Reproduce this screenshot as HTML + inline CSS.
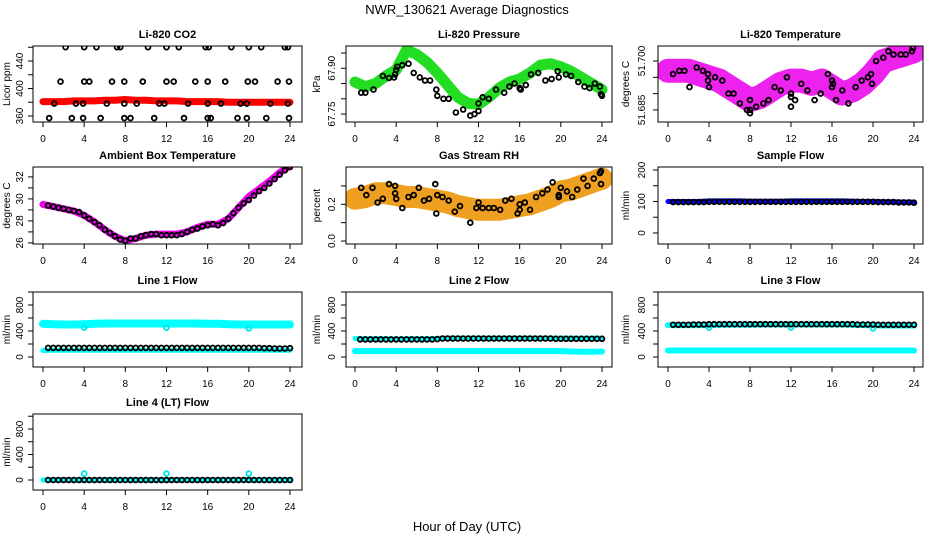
<!DOCTYPE html>
<html><head><meta charset="utf-8"><style>
html,body{margin:0;padding:0;background:#fff;}
svg{display:block;font-family:"Liberation Sans",sans-serif;}
</style></head><body>
<svg id="fig" width="936" height="540" viewBox="0 0 936 540">
<text x="467" y="14" text-anchor="middle" font-size="13">NWR_130621  Average Diagnostics</text>
<text x="467" y="531" text-anchor="middle" font-size="13">Hour of Day (UTC)</text>
</svg>
<script>
const xTicks = [0,4,8,12,16,20,24];
const hours25 = [0,1,2,3,4,5,6,7,8,9,10,11,12,13,14,15,16,17,18,19,20,21,22,23,24];
const hours48 = [0.5,1,1.5,2,2.5,3,3.5,4,4.5,5,5.5,6,6.5,7,7.5,8,8.5,9,9.5,10,10.5,11,11.5,12,12.5,13,13.5,14,14.5,15,15.5,16,16.5,17,17.5,18,18.5,19,19.5,20,20.5,21,21.5,22,22.5,23,23.5,24];

// CO2
const co2BandY = [381,381,381,382,382,382,383,383,384,383,383,382,382,382,381,381,381,381,380,380,380,380,380,380,380];
const co2PtX = [2.2,4,5.2,7.2,7.5,10.2,12,13.2,15.8,16.1,18.3,20,21.2,23.5,23.8, 1.7,4,4.5,6.7,7.9,9.7,12,12.7,14.8,16,17.7,19.9,20.6,22.8,23.9, 1.1,3.2,3.9,6.2,7.9,9.1,11.3,11.8,14.1,16,17.3,19.2,19.8,22.1,23.8, 0.6,2.8,3.9,5.6,7.9,8.5,10.8,13.7,16,16.3,18.9,19.8,21.7,23.9];
const co2PtY = [460,460,460,460,460,460,460,460,460,460,460,460,460,460,460, 410,410,410,410,410,410,410,410,410,410,410,410,410,410,410, 378,378,378,378,378,378,378,378,378,378,378,378,378,378,378, 357,357,357,357,357,357,357,357,357,357,357,357,357,357];
// Pressure
const presBandY = [67.855,67.84,67.85,67.875,67.895,67.96,67.945,67.92,67.885,67.845,67.805,67.785,67.782,67.805,67.835,67.855,67.865,67.885,67.91,67.915,67.905,67.89,67.87,67.85,67.83];
const presPtX = [0.6,1,1.8,2.7,3.3,3.8,3.9,4,4.1,4.6,5.2,5.7,6.3,6.8,7.3,7.9,8,8.6,9.1,9.8,10.5,11.2,11.6,12,12,12.4,13,13.7,14.5,15,15.5,16,16.1,16.6,17.1,17.8,18.5,19.1,19.7,19.8,20.5,21,21.7,22.3,22.8,23.3,23.8,23.9,24];
const presPtY = [67.82,67.82,67.83,67.875,67.868,67.87,67.88,67.895,67.905,67.91,67.915,67.885,67.87,67.86,67.86,67.83,67.81,67.8,67.8,67.755,67.765,67.745,67.75,67.76,67.785,67.805,67.8,67.83,67.82,67.84,67.85,67.835,67.83,67.845,67.88,67.885,67.86,67.865,67.89,67.87,67.88,67.875,67.855,67.84,67.835,67.85,67.84,67.815,67.81];
// Temperature
const tempBandY = [51.697,51.697,51.697,51.696,51.695,51.694,51.692,51.690,51.688,51.689,51.691,51.693,51.694,51.694,51.693,51.694,51.692,51.690,51.691,51.693,51.696,51.700,51.701,51.702,51.703];
const tempPtX = [0.5,1.1,1.6,2.1,2.8,3.4,3.9,3.9,4,4.6,5.3,5.9,6.4,7.0,7.7,8,8,8,8.6,9.3,9.8,10.4,11.0,11.6,12,12,12,12.4,13,13.6,14.3,14.9,15.6,16,16,16.1,16.4,17.0,17.6,18.3,18.9,19.5,19.8,19.9,20.3,21,21.5,22,22.7,23.2,23.8,23.9];
const tempPtY = [51.696,51.697,51.697,51.692,51.698,51.697,51.696,51.694,51.692,51.695,51.694,51.690,51.690,51.687,51.685,51.684,51.685,51.688,51.686,51.687,51.688,51.692,51.691,51.695,51.689,51.690,51.686,51.688,51.693,51.691,51.688,51.690,51.696,51.694,51.692,51.693,51.688,51.691,51.687,51.692,51.694,51.695,51.696,51.693,51.700,51.701,51.703,51.702,51.702,51.702,51.703,51.704];
// Ambient
const ambBandY = [29.5,29.3,29.1,28.9,28.5,27.9,27.2,26.6,26.2,26.4,26.7,26.8,26.8,26.8,27.0,27.4,27.7,27.7,28.2,29.2,30.2,30.9,31.6,32.4,33.0];
const ambPtY = [29.4,29.3,29.2,29.1,29.0,28.9,28.8,28.5,28.2,27.9,27.6,27.2,26.9,26.6,26.3,26.2,26.4,26.4,26.6,26.7,26.8,26.8,26.7,26.7,26.7,26.7,26.8,27.0,27.2,27.3,27.5,27.6,27.7,27.6,27.8,28.2,28.7,29.2,29.6,29.9,30.3,30.7,31.0,31.4,31.8,32.2,32.6,32.9];
// RH
const rhBandY = [0.23,0.24,0.26,0.26,0.25,0.24,0.24,0.23,0.22,0.21,0.19,0.18,0.17,0.17,0.17,0.18,0.19,0.20,0.22,0.24,0.27,0.28,0.30,0.32,0.34];
const rhPtX = [0.6,1.1,1.7,2.2,2.7,3.3,3.9,3.9,4,4.6,5.2,5.7,6.2,6.7,7.2,7.8,7.9,8,8.5,9.1,9.7,10.2,11.2,11.8,12,12.4,13,13.5,14.1,14.6,15.2,15.8,16,16,16.5,17,17.6,18.2,18.7,19.2,19.8,19.8,20,20.6,21.1,21.6,22.2,22.6,23.2,23.8,23.9,23.9];
const rhPtY = [0.29,0.25,0.29,0.21,0.23,0.31,0.30,0.26,0.23,0.18,0.24,0.25,0.29,0.22,0.23,0.31,0.15,0.25,0.24,0.22,0.16,0.19,0.10,0.18,0.21,0.18,0.18,0.18,0.17,0.22,0.23,0.15,0.17,0.20,0.21,0.17,0.24,0.26,0.28,0.32,0.24,0.25,0.29,0.27,0.24,0.28,0.34,0.30,0.34,0.37,0.31,0.38];
// Sample flow
const sampBandY = [100,100,100,100,102,102,102,102,101,101,101,101,102,102,102,102,102,102,101,100,100,99,99,98,98];
const sampPtY = [98,98,98,98,98,98,98,99,99,99,99,99,99,99,99,99,99,99,99,99,99,99,99,99,99,99,99,99,99,99,99,99,99,99,99,99,99,99,99,99,98,98,98,98,97,97,97,96];
// Line flows
const l1BandHiY = [510,505,500,500,505,510,515,515,515,515,515,515,515,515,515,515,510,510,505,500,500,500,500,500,500];
const l1BandLoY = [100,105,105,105,105,105,105,105,105,105,105,105,105,105,105,105,105,105,105,105,105,105,105,105,105];
const l1PtY = [140,140,140,140,140,140,140,140,140,140,140,140,140,140,140,140,140,140,140,140,140,140,140,140,140,140,140,140,140,140,140,140,140,140,140,140,140,140,140,140,140,140,135,135,130,130,130,135];
const l2BandHiY = [285,280,280,280,275,280,280,280,285,290,290,290,290,290,290,290,290,290,290,290,290,290,290,290,290];
const l2BandLoY = [90,90,90,90,90,90,90,90,90,90,90,90,90,90,90,90,90,90,90,90,90,85,80,80,85];
const l2PtY = [270,270,270,270,270,270,270,270,270,270,270,270,270,270,270,275,285,285,285,285,285,285,285,285,285,285,285,285,285,285,285,285,285,285,285,285,285,285,280,280,280,280,280,280,280,280,280,280];
const l3BandHiY = [490,490,490,490,490,495,495,495,495,500,500,500,500,500,500,500,500,500,495,490,490,485,485,485,485];
const l3BandLoY = [100,100,100,100,100,100,100,100,100,100,100,100,100,100,100,100,100,100,100,100,100,100,100,100,100];
const l3PtY = [495,495,495,495,500,500,500,505,505,505,505,505,505,505,505,505,505,505,505,505,505,505,505,505,505,505,505,505,505,505,505,505,505,505,505,505,500,500,500,500,495,495,495,495,495,495,495,495];
const l4BandY = [0,0,0,0,0,0,0,0,0,0,0,0,0,0,0,0,0,0,0,0,0,0,0,0,0];
const l4PtY = [0,0,0,0,0,0,0,0,0,0,0,0,0,0,0,0,0,0,0,0,0,0,0,0,0,0,0,0,0,0,0,0,0,0,0,0,0,0,0,0,0,0,0,0,0,0,0,0];
const outlierX = [4,12,20];
const l1OutY = [450,450,440];
const l3OutY = [450,450,440];
const l4OutY = [100,100,100];

const NS = "http://www.w3.org/2000/svg";
const svg = document.getElementById('fig');
function mk(tag, attrs, parent){const e=document.createElementNS(NS,tag);for(const k in attrs)e.setAttribute(k,attrs[k]);(parent||svg).appendChild(e);return e;}

const cols = [{l:33,r:302,x0:43,x24:290,yl:23,yt:10},{l:346,r:612,x0:355,x24:602,yl:335,yt:320},{l:658,r:923,x0:668,x24:914,yl:645,yt:629}];
const rows = [{t:46,b:122},{t:167,b:244},{t:292,b:367},{t:414,b:490}];

function panel(o){
  const c=cols[o.col], r=rows[o.row];
  const g=mk('g',{});
  
  
  const sx=v=>c.x0+(v/24)*(c.x24-c.x0);
  const sy=v=>r.b-(v-o.ylim[0])/(o.ylim[1]-o.ylim[0])*(r.b-r.t);
  const clip='clip'+o.name;
  const cp=mk('clipPath',{id:clip},g); mk('rect',{x:c.l,y:r.t,width:c.r-c.l,height:r.b-r.t},cp);
  const data=mk('g',{'clip-path':'url(#'+clip+')'},g);
  (o.bands||[]).forEach(b=>{
    const pts=b.x.map((x,i)=>sx(x).toFixed(1)+','+sy(b.y[i]).toFixed(1)).join(' ');
    const pl=mk('polyline',{points:pts,fill:'none',stroke:b.color,'stroke-width':b.w,'stroke-linecap':'round','stroke-linejoin':'round',opacity:b.op||1},data);
    
    
  });
  (o.pts||[]).forEach(p=>{
    p.x.forEach((x,i)=>{
      const ci=mk('circle',{cx:sx(x).toFixed(1),cy:sy(p.y[i]).toFixed(1),r:2.4,fill:'none',stroke:p.color,'stroke-width':1.8},data);
      
      
    });
  });
  mk('rect',{x:c.l,y:r.t,width:c.r-c.l,height:r.b-r.t,fill:'none',stroke:'#000','stroke-width':1},g);
  xTicks.forEach(t=>{
    mk('line',{x1:sx(t),x2:sx(t),y1:r.b,y2:r.b+5,stroke:'#000'},g);
    const tx=mk('text',{x:sx(t),y:r.b+20,'text-anchor':'middle','font-size':10},g);
    tx.textContent=t;
    
    
  });
  o.yticks.forEach(t=>{
    mk('line',{x1:c.l,x2:c.l-5,y1:sy(t),y2:sy(t),stroke:'#000'},g);
  });
  o.ylabels.forEach(t=>{
    const y=sy(parseFloat(t));
    const tx=mk('text',{x:c.yl,y:y,'text-anchor':'middle','font-size':10,transform:'rotate(-90 '+c.yl+' '+y+')'},g);
    tx.textContent=t;
    
    
  });
  const ym=(r.t+r.b)/2;
  const yt=mk('text',{x:c.yt,y:ym,'text-anchor':'middle','font-size':10,transform:'rotate(-90 '+c.yt+' '+ym+')'},g);
  yt.textContent=o.ylab;
  
  
  const tt=mk('text',{x:(c.l+c.r)/2,y:r.t-8,'text-anchor':'middle','font-size':11,'font-weight':'bold'},g);
  tt.textContent=o.title;
  
  
}

const flowTicks=[0,200,400,600,800,1000], flowLabels=['0','400','800'];
panel({name:'co2-panel',col:0,row:0,title:'Li-820 CO2',ylab:'Licor ppm',ylim:[351.3,461.8],yticks:[360,380,400,420,440,460],ylabels:['360','400','440'],
 bands:[{name:'co2-band',x:hours25,y:co2BandY,color:'#ff0000',w:7}],pts:[{name:'co2-point',x:co2PtX,y:co2PtY,color:'#000'}]});
panel({name:'pressure-panel',col:1,row:0,title:'Li-820 Pressure',ylab:'kPa',ylim:[67.724,67.973],yticks:[67.75,67.80,67.85,67.90,67.95],ylabels:['67.75','67.90'],
 bands:[{name:'pressure-band',x:hours25,y:presBandY,color:'#22dd22',w:11}],pts:[{name:'pressure-point',x:presPtX,y:presPtY,color:'#000'}]});
panel({name:'temperature-panel',col:2,row:0,title:'Li-820 Temperature',ylab:'degrees C',ylim:[51.6813,51.7046],yticks:[51.685,51.690,51.695,51.700],ylabels:['51.685','51.700'],
 bands:[{name:'temperature-band',x:hours25,y:tempBandY,color:'#ee22ee',w:24}],pts:[{name:'temperature-point',x:tempPtX,y:tempPtY,color:'#000'}]});
panel({name:'ambient-panel',col:0,row:1,title:'Ambient Box Temperature',ylab:'degrees C',ylim:[25.9,32.9],yticks:[26,27,28,29,30,31,32],ylabels:['26','28','30','32'],
 bands:[{name:'ambient-band',x:hours25,y:ambBandY,color:'#ee00ee',w:7}],pts:[{name:'ambient-point',x:hours48,y:ambPtY,color:'#000'}]});
panel({name:'rh-panel',col:1,row:1,title:'Gas Stream RH',ylab:'percent',ylim:[-0.016,0.403],yticks:[0,0.1,0.2,0.3],ylabels:['0.0','0.2'],
 bands:[{name:'rh-band',x:hours25,y:rhBandY,color:'#f0a020',w:22}],pts:[{name:'rh-point',x:rhPtX,y:rhPtY,color:'#000'}]});
panel({name:'sample-flow-panel',col:2,row:1,title:'Sample Flow',ylab:'ml/min',ylim:[-35,209.5],yticks:[0,50,100,150,200],ylabels:['0','100','200'],
 bands:[{name:'sample-band',x:hours25,y:sampBandY,color:'#0000ff',w:5}],pts:[{name:'sample-point',x:hours48,y:sampPtY,color:'#000'}]});
panel({name:'line1-panel',col:0,row:2,title:'Line 1 Flow',ylab:'ml/min',ylim:[-154,1000],yticks:flowTicks,ylabels:flowLabels,
 bands:[{name:'line1-high-band',x:hours25,y:l1BandHiY,color:'#00ffff',w:8},{name:'line1-low-band',x:hours25,y:l1BandLoY,color:'#00ffff',w:5}],
 pts:[{name:'line1-outlier',x:outlierX,y:l1OutY,color:'#00e5e5'},{name:'line1-point',x:hours48,y:l1PtY,color:'#000'}]});
panel({name:'line2-panel',col:1,row:2,title:'Line 2 Flow',ylab:'ml/min',ylim:[-154,1000],yticks:flowTicks,ylabels:flowLabels,
 bands:[{name:'line2-high-band',x:hours25,y:l2BandHiY,color:'#00ffff',w:5},{name:'line2-low-band',x:hours25,y:l2BandLoY,color:'#00ffff',w:6}],
 pts:[{name:'line2-point',x:hours48,y:l2PtY,color:'#000'}]});
panel({name:'line3-panel',col:2,row:2,title:'Line 3 Flow',ylab:'ml/min',ylim:[-154,1000],yticks:flowTicks,ylabels:flowLabels,
 bands:[{name:'line3-high-band',x:hours25,y:l3BandHiY,color:'#00ffff',w:6},{name:'line3-low-band',x:hours25,y:l3BandLoY,color:'#00ffff',w:6}],
 pts:[{name:'line3-outlier',x:outlierX,y:l3OutY,color:'#00e5e5'},{name:'line3-point',x:hours48,y:l3PtY,color:'#000'}]});
panel({name:'line4-panel',col:0,row:3,title:'Line 4 (LT) Flow',ylab:'ml/min',ylim:[-157,1035],yticks:flowTicks,ylabels:flowLabels,
 bands:[{name:'line4-band',x:hours25,y:l4BandY,color:'#00ffff',w:5}],
 pts:[{name:'line4-outlier',x:outlierX,y:l4OutY,color:'#00e5e5'},{name:'line4-point',x:hours48,y:l4PtY,color:'#000'}]});
</script>
</body></html>
